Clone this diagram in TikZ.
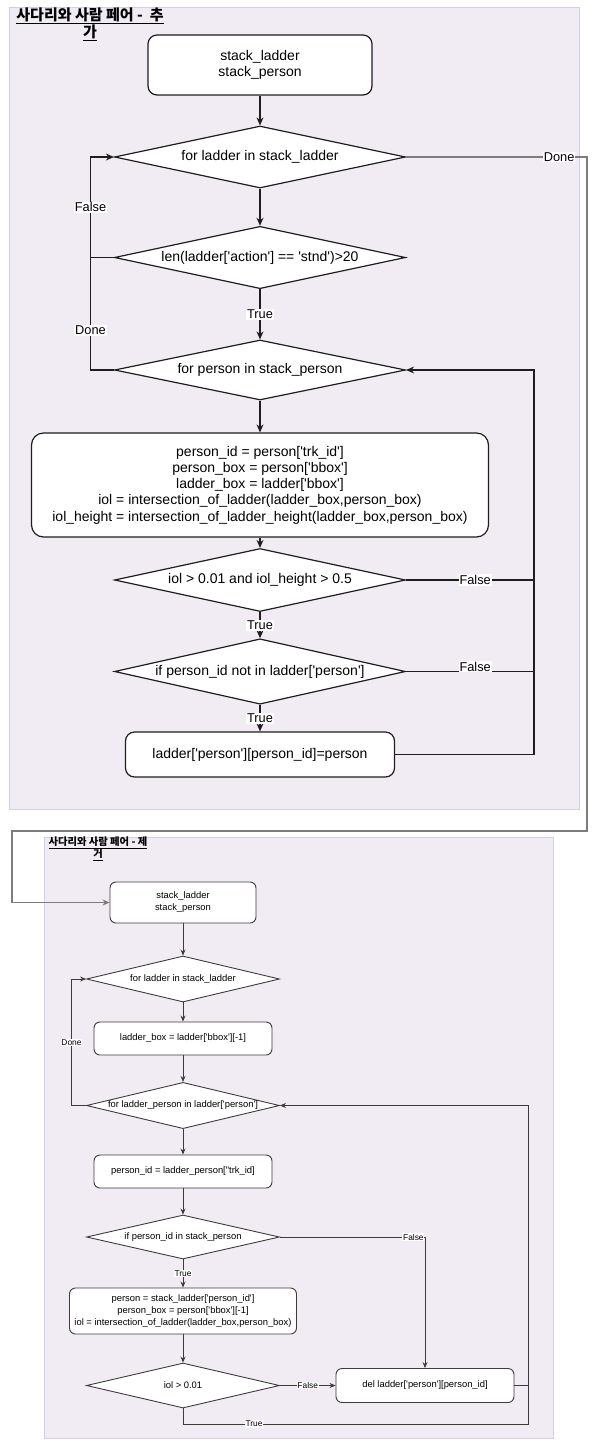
\documentclass[tikz,border=0pt]{standalone}
\usepackage{fontspec}
\setmainfont{Liberation Sans}[Ligatures=TeXOff]
\newfontfamily\kr{Noto Sans CJK KR}
\usetikzlibrary{shapes.geometric,arrows.meta}
\definecolor{panelfill}{HTML}{F1ECF4}
\definecolor{panelline}{HTML}{D7CDE2}
\definecolor{lineA}{HTML}{1E1E1E}
\definecolor{lineB}{HTML}{3C3C3C}
\definecolor{linkgray}{HTML}{7C7C7C}
\tikzset{
  panel/.style={draw=panelline, fill=panelfill, line width=1pt, inner sep=0pt},
  boxA/.style={draw=lineA, fill=white, line width=1.2pt, rounded corners=9pt, align=center, inner sep=0pt, font=\fontsize{14}{16.3}\selectfont},
  decA/.style={draw=lineA, fill=white, line width=1.2pt, diamond, aspect=4, align=center, inner sep=0pt, font=\fontsize{14}{16.3}\selectfont},
  boxB/.style={draw=lineB, fill=white, line width=0.9pt, rounded corners=6pt, align=center, inner sep=0pt, font=\fontsize{9.4}{11.9}\selectfont},
  decB/.style={draw=lineB, fill=white, line width=0.9pt, diamond, aspect=4, align=center, inner sep=0pt, font=\fontsize{9.4}{11.9}\selectfont},
  arrA/.style={draw=lineA, line width=1.2pt, -{Stealth[length=8pt,width=7pt]}},
  lnA/.style={draw=lineA, line width=1.2pt},
  arrB/.style={draw=lineB, line width=0.9pt, -{Stealth[length=6pt,width=5pt]}},
  lnB/.style={draw=lineB, line width=0.9pt},
  lblA/.style={fill=white, inner sep=1pt, font=\fontsize{12.8}{14}\selectfont, text=black},
  lblB/.style={fill=white, inner sep=0.8pt, font=\fontsize{8.4}{10}\selectfont, text=black},
  titleA/.style={align=center, font=\kr\bfseries\fontsize{15}{17}\selectfont, inner sep=0pt},
  titleB/.style={align=center, font=\kr\bfseries\fontsize{10.3}{12}\selectfont, inner sep=0pt},
}
\begin{document}
\begin{tikzpicture}[x=1pt,y=-1pt]
\useasboundingbox (0,0) rectangle (595,1449);
\fill[white] (0,0) rectangle (595,1449);

% ---------- panel A ----------
\node[panel, minimum width=570pt, minimum height=802pt] (panelA) at (294,408) {};
\node[titleA] (titleA) at (90,24.5) {\underline{사다리와 사람 페어 -\ \ 추}\\\underline{가}};

\node[boxA, minimum width=224pt, minimum height=60pt] (startA) at (260,65) {stack\_ladder\\stack\_person};
\node[decA, minimum width=291pt, minimum height=62pt] (d1) at (260,157) {for ladder in stack\_ladder};
\node[decA, minimum width=291pt, minimum height=61pt] (d2) at (260,257.5) {len(ladder['action'] == 'stnd')>20};
\node[decA, minimum width=291pt, minimum height=60pt] (d3) at (260,370) {for person in stack\_person};
\node[boxA, rounded corners=12pt, minimum width=457pt, minimum height=104pt] (p1) at (260,485) {person\_id = person['trk\_id']\\person\_box = person['bbox']\\ladder\_box = ladder['bbox']\\iol = intersection\_of\_ladder(ladder\_box,person\_box)\\iol\_height = intersection\_of\_ladder\_height(ladder\_box,person\_box)};
\node[decA, minimum width=291pt, minimum height=63pt] (d4) at (260,580) {iol > 0.01 and iol\_height > 0.5};
\node[decA, minimum width=291pt, minimum height=63pt] (d5) at (260,671.5) {if person\_id not in ladder['person']};
\node[boxA, minimum width=269pt, minimum height=45pt] (p2) at (260,754.5) {ladder['person'][person\_id]=person};

\coordinate (lxA) at (90.5,0);
\coordinate (rxA) at (534,0);
\coordinate (ox) at (587,0);
\coordinate (oy) at (0,831);
\coordinate (lx0) at (12,0);

\draw[arrA] (startA) -- (d1);
\draw[arrA] (d1) -- (d2);
\draw[arrA] (d2.west) -- (d2.west -| lxA) -- node[lblA]{False} (d1.west -| lxA) -- (d1.west);
\draw[arrA] (d2) -- node[lblA]{True} (d3);
\draw[lnA] (d3.west) -- (d3.west -| lxA) -- node[lblA, pos=0.355]{Done} (d2.west -| lxA);
\draw[arrA] (d3) -- (p1);
\draw[arrA] (p1) -- (d4);
\draw[arrA] (d4) -- node[lblA]{True} (d5);
\draw[lnA] (d4.east) -- node[lblA, pos=0.54]{False} (d4.east -| rxA);
\draw[lnA] (d5.east) -- node[lblA, pos=0.54, yshift=5pt]{False} (d5.east -| rxA);
\draw[arrA] (d5) -- node[lblA]{True} (p2);
\draw[arrA] (p2.east) -- (p2.east -| rxA) -- (d3.east -| rxA) -- (d3.east);

% ---------- panel B ----------
\node[panel, minimum width=509pt, minimum height=601pt] (panelB) at (298.5,1137.5) {};
\node[titleB] (titleB) at (98,849) {\underline{사다리와 사람 페어 - 제}\\\underline{거}};

\node[boxB, minimum width=146pt, minimum height=41pt] (startB) at (183,902.5) {stack\_ladder\\stack\_person};
\node[decB, minimum width=193pt, minimum height=46pt] (d6) at (183,979) {for ladder in stack\_ladder};
\node[boxB, minimum width=178pt, minimum height=33pt] (p3) at (183,1038.5) {ladder\_box = ladder['bbox'][-1]};
\node[decB, minimum width=193pt, minimum height=45pt] (d7) at (183,1105.5) {for ladder\_person in ladder['person']};
\node[boxB, minimum width=178pt, minimum height=33pt] (p4) at (183,1171.5) {person\_id = ladder\_person["trk\_id]};
\node[decB, minimum width=193pt, minimum height=44pt] (d8) at (183,1237) {if person\_id in stack\_person};
\node[boxB, minimum width=227pt, minimum height=46pt] (p5) at (183,1311) {person = stack\_ladder['person\_id']\\person\_box = person['bbox'][-1]\\iol = intersection\_of\_ladder(ladder\_box,person\_box)};
\node[decB, minimum width=193pt, minimum height=45pt] (d9) at (183,1385.5) {iol > 0.01};
\node[boxB, minimum width=178pt, minimum height=34pt] (p6) at (425,1385.5) {del ladder['person'][person\_id]};

\coordinate (lxB) at (71.5,0);
\coordinate (rxB) at (528,0);
\coordinate (byB) at (0,1424);

\draw[arrB] (startB) -- (d6);
\draw[arrB] (d6) -- (p3);
\draw[arrB] (p3) -- (d7);
\draw[arrB] (d7.west) -- (d7.west -| lxB) -- node[lblB]{Done} (d6.west -| lxB) -- (d6.west);
\draw[arrB] (d7) -- (p4);
\draw[arrB] (p4) -- (d8);
\draw[arrB] (d8.east) -- node[lblB, pos=0.92]{False} (d8.east -| p6.north) -- (p6.north);
\draw[arrB] (d8) -- node[lblB]{True} (p5);
\draw[arrB] (p5) -- (d9);
\draw[arrB] (d9.east) -- node[lblB]{False} (p6.west);
\draw[arrB] (p6.east) -- (p6.east -| rxB) -- (d7.east -| rxB) -- (d7.east);
\draw[lnB] (d9.south) -- (d9.south |- byB) -- node[lblB, pos=0.206]{True} (byB -| rxB) -- (p6.east -| rxB);

% ---------- link between panels ----------
\draw[draw=linkgray, line width=1.5pt, -{Stealth[length=7pt,width=6pt]}] (d1.east) -- node[lblA, pos=0.846]{Done} (d1.east -| ox) -- (ox |- oy) -- (oy -| lx0) -- (startB.west -| lx0) -- (startB.west);
\end{tikzpicture}
\end{document}
